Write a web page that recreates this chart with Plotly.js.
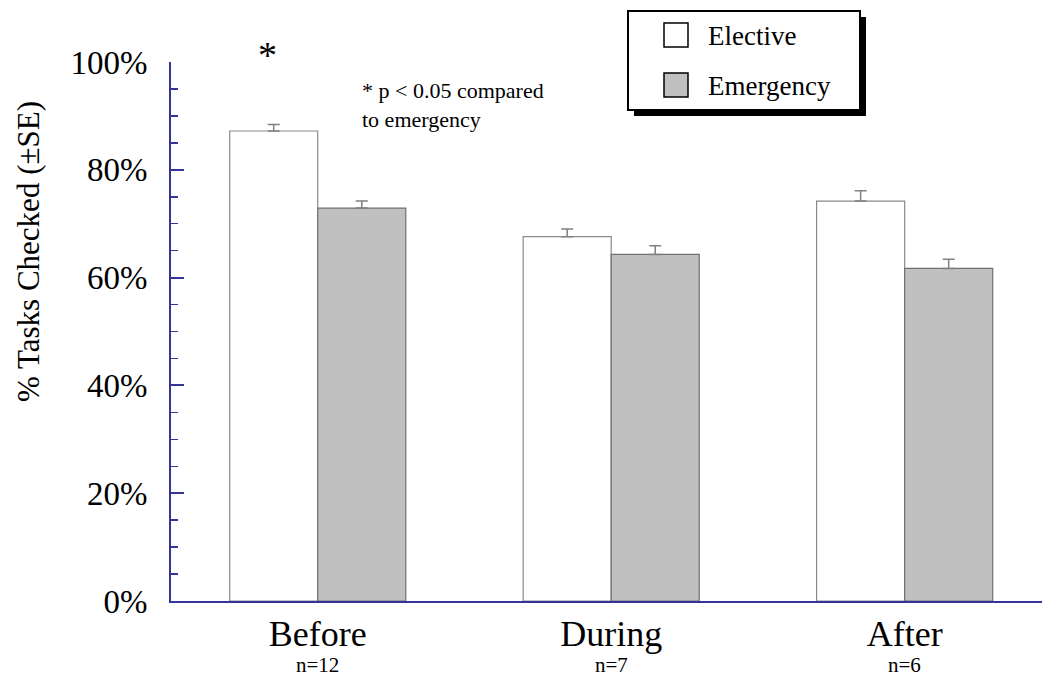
<!DOCTYPE html>
<html>
<head>
<meta charset="utf-8">
<script src="https://cdn.plot.ly/plotly-3.0.1.min.js"></script>
<style>html,body{margin:0;padding:0;background:#fff;}#chart{width:1042px;height:677px;}</style>
</head>
<body>
<div id="chart"></div>
<script>
// ---- data ----
const categories = ["Before", "During", "After"];
const sampleSizes = ["n=12", "n=7", "n=6"];
const electiveValues = [87.2, 67.6, 74.2];
const electiveSE = [1.2, 1.4, 1.9];
const emergencyValues = [72.9, 64.3, 61.7];
const emergencySE = [1.3, 1.6, 1.7];
const seriesNames = ["Elective", "Emergency"];
const yTickVals = [0, 20, 40, 60, 80, 100];
const yTickLabels = ["0%", "20%", "40%", "60%", "80%", "100%"];
const significanceNote = "* p < 0.05 compared<br>to emergency";
const yTitle = "% Tasks Checked (±SE)";

// ---- layout helpers ----
const W = 1042, H = 677;
const L = 171, R = 1042, T = 62, B = 601;
const px = x => (x - L) / (R - L);
const py = y => (B - y) / (B - T);
const serif = "Liberation Serif";
const axisBlue = "#34349a";

const traces = [
  {
    type: "bar", name: seriesNames[0], x: categories, y: electiveValues,
    marker: {color: "#ffffff", line: {color: "#8a8a8a", width: 1.2}},
    error_y: {type: "data", symmetric: false, array: electiveSE, arrayminus: [0,0,0],
              color: "#808080", thickness: 1.5, width: 6},
    showlegend: false, hoverinfo: "skip"
  },
  {
    type: "bar", name: seriesNames[1], x: categories, y: emergencyValues,
    marker: {color: "#c0c0c0", line: {color: "#707070", width: 1.2}},
    error_y: {type: "data", symmetric: false, array: emergencySE, arrayminus: [0,0,0],
              color: "#808080", thickness: 1.5, width: 6},
    showlegend: false, hoverinfo: "skip"
  }
];

const shapes = [
  {type: "rect", xref: "paper", yref: "paper", x0: px(634), x1: px(866), y0: py(17), y1: py(116),
   fillcolor: "#000", line: {width: 0}, layer: "above"},
  {type: "rect", xref: "paper", yref: "paper", x0: px(628), x1: px(860), y0: py(11), y1: py(110),
   fillcolor: "#fff", line: {color: "#000", width: 2}, layer: "above"},
  {type: "rect", xref: "paper", yref: "paper", x0: px(664), x1: px(688), y0: py(23), y1: py(47),
   fillcolor: "#ffffff", line: {color: "#000", width: 1.5}, layer: "above"},
  {type: "rect", xref: "paper", yref: "paper", x0: px(664), x1: px(688), y0: py(73), y1: py(97),
   fillcolor: "#c0c0c0", line: {color: "#000", width: 1.5}, layer: "above"}
];

const annotations = [
  {text: seriesNames[0], xref: "paper", yref: "paper", x: px(706), y: py(36), xanchor: "left", yanchor: "middle",
   showarrow: false, font: {family: serif, size: 27, color: "#000"}},
  {text: seriesNames[1], xref: "paper", yref: "paper", x: px(706), y: py(86), xanchor: "left", yanchor: "middle",
   showarrow: false, font: {family: serif, size: 27, color: "#000"}},
  {text: "*", xref: "paper", yref: "paper", x: px(267), y: py(55), xanchor: "center", yanchor: "middle",
   showarrow: false, font: {family: serif, size: 38, color: "#000"}},
  {text: significanceNote, xref: "paper", yref: "paper", x: px(360), y: py(76), xanchor: "left", yanchor: "top",
   align: "left", showarrow: false, font: {family: serif, size: 22, color: "#000"}},
  {text: yTitle, xref: "paper", yref: "paper", x: px(28), y: py(252), xanchor: "center", yanchor: "middle",
   textangle: -90, showarrow: false, font: {family: serif, size: 31, color: "#000"}}
];
categories.forEach((c, i) => {
  annotations.push({text: sampleSizes[i], xref: "x", yref: "paper", x: c, y: py(665),
    xanchor: "center", yanchor: "middle", showarrow: false, font: {family: serif, size: 21, color: "#000"}});
});

const layout = {
  width: W, height: H,
  margin: {l: L, r: W - R, t: T, b: H - B, pad: 0},
  paper_bgcolor: "#fff", plot_bgcolor: "#fff",
  barmode: "group", bargap: 0.4, bargroupgap: 0,
  font: {family: serif, color: "#000"},
  showlegend: false,
  xaxis: {
    type: "category", range: [-0.5, 2.468], showgrid: false, zeroline: false,
    showline: true, linecolor: axisBlue, linewidth: 2, ticks: "",
    tickfont: {family: serif, size: 36, color: "#000"}, ticklabelstandoff: 0,
    fixedrange: true
  },
  yaxis: {
    range: [0, 100], tickvals: yTickVals, ticktext: yTickLabels, showgrid: false, zeroline: false,
    showline: true, linecolor: axisBlue, linewidth: 2, mirror: false,
    ticks: "inside", ticklen: 13, tickwidth: 2, tickcolor: axisBlue,
    minor: {dtick: 5, ticks: "inside", ticklen: 7, tickwidth: 1.5, tickcolor: axisBlue, showgrid: false},
    tickfont: {family: serif, size: 33, color: "#000"}, ticklabelstandoff: 15,
    fixedrange: true
  },
  shapes: shapes,
  annotations: annotations
};

Plotly.newPlot("chart", traces, layout, {displayModeBar: false, staticPlot: true});
</script>
</body>
</html>
